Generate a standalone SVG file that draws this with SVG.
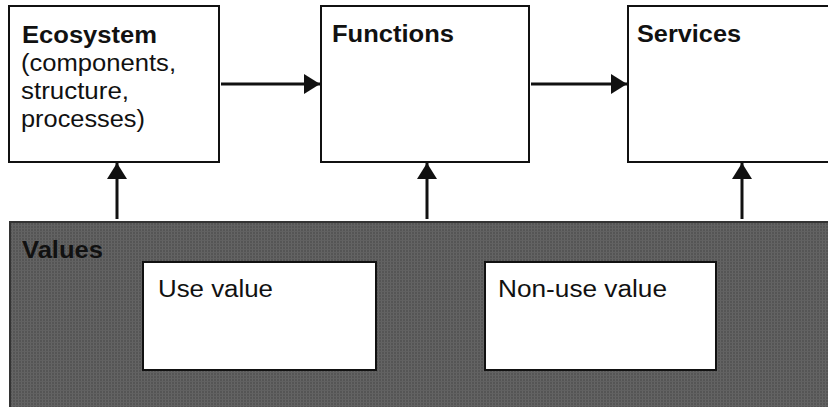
<svg xmlns="http://www.w3.org/2000/svg" width="828" height="407" viewBox="0 0 828 407">
<style>
.box{fill:#fff;stroke:#111;stroke-width:2}
.t{font-family:"Liberation Sans",Arial,sans-serif;font-size:23.5px;fill:#111}
.b{font-weight:bold}
.con{stroke:#111;stroke-width:3;fill:none}
</style>
<defs>
<pattern id="tex" width="3" height="3" patternUnits="userSpaceOnUse">
<rect width="3" height="3" fill="#555"/>
<rect width="1" height="3" fill="#656565"/>
<rect width="3" height="1" fill="#616161"/>
</pattern>
<marker id="ah" viewBox="0 0 16 20" refX="16" refY="10" markerWidth="16" markerHeight="20" markerUnits="userSpaceOnUse" orient="auto">
<path d="M0,0 L16,10 L0,20 Z" fill="#111"/>
</marker>
</defs>
<rect width="828" height="407" fill="#fff"/>
<g id="values">
<rect x="10" y="222" width="830" height="200" fill="url(#tex)" stroke="#333" stroke-width="2"/>
<text class="t b" x="22" y="258" textLength="81" lengthAdjust="spacingAndGlyphs">Values</text>
</g>
<g id="use-value">
<rect class="box" x="143" y="262" width="233" height="108"/>
<text class="t" x="158" y="297" textLength="115" lengthAdjust="spacingAndGlyphs">Use value</text>
</g>
<g id="non-use-value">
<rect class="box" x="485" y="262" width="231" height="108"/>
<text class="t" x="498" y="297" textLength="169" lengthAdjust="spacingAndGlyphs">Non-use value</text>
</g>
<g id="ecosystem">
<rect class="box" x="9" y="6" width="210" height="156"/>
<text class="t b" x="22" y="43" textLength="135" lengthAdjust="spacingAndGlyphs">Ecosystem</text>
<text class="t" x="21" y="71" textLength="155" lengthAdjust="spacingAndGlyphs">(components,</text>
<text class="t" x="21" y="99" textLength="108" lengthAdjust="spacingAndGlyphs">structure,</text>
<text class="t" x="21" y="127" textLength="124" lengthAdjust="spacingAndGlyphs">processes)</text>
</g>
<g id="functions">
<rect class="box" x="321" y="6" width="208" height="156"/>
<text class="t b" x="332" y="42" textLength="122" lengthAdjust="spacingAndGlyphs">Functions</text>
</g>
<g id="services">
<rect class="box" x="628" y="6" width="220" height="156"/>
<text class="t b" x="637" y="42" textLength="104" lengthAdjust="spacingAndGlyphs">Services</text>
</g>
<g id="connectors">
<line class="con" x1="221" y1="84" x2="320" y2="84" marker-end="url(#ah)"/>
<line class="con" x1="531" y1="84" x2="627" y2="84" marker-end="url(#ah)"/>
<line class="con" x1="117" y1="219" x2="117" y2="163" marker-end="url(#ah)"/>
<line class="con" x1="427" y1="219" x2="427" y2="163" marker-end="url(#ah)"/>
<line class="con" x1="742" y1="219" x2="742" y2="163" marker-end="url(#ah)"/>
</g>
</svg>
